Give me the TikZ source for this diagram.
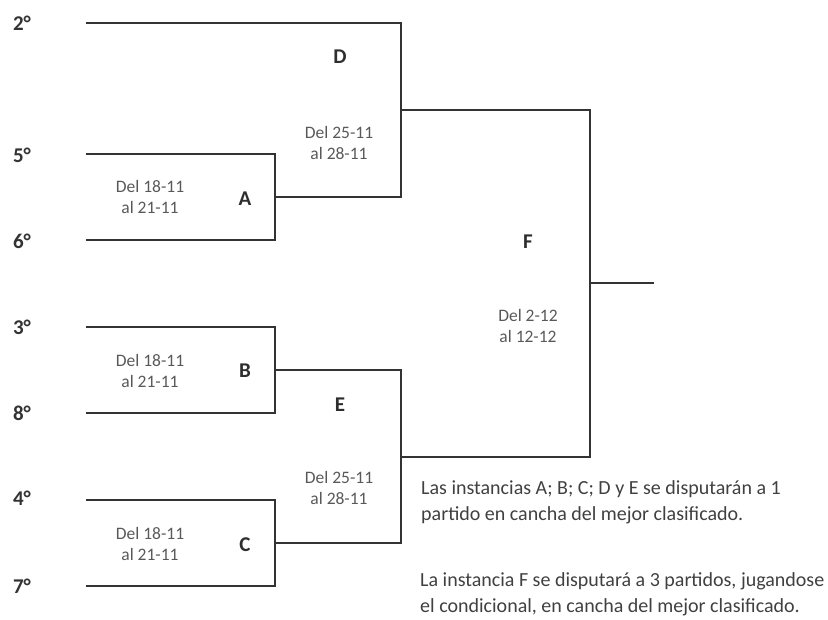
\documentclass[tikz,border=0pt]{standalone}
\usepackage{fontspec}
\setmainfont{Carlito}
\begin{document}
\begin{tikzpicture}[x=1pt,y=-1pt,
  bline/.style={draw=black!80,line width=2.8pt,line cap=rect},
  seed/.style={font=\fontsize{21}{24}\selectfont\bfseries,text=black!80,anchor=center},
  rlabel/.style={font=\fontsize{21}{24}\selectfont\bfseries,text=black!82},
  dates/.style={font=\fontsize{17.5}{21.5}\selectfont,text=black!65,align=center},
  note/.style={font=\fontsize{20}{26.5}\selectfont,text=black!75,align=left,anchor=north west,inner sep=0pt}]
\useasboundingbox (0,0) rectangle (828,619);
% seeds
\node[seed] (s2) at (22,23) {2°};
\node[seed] (s5) at (22,155) {5°};
\node[seed] (s6) at (22,241) {6°};
\node[seed] (s3) at (22,327) {3°};
\node[seed] (s8) at (22,413) {8°};
\node[seed] (s4) at (22,498) {4°};
\node[seed] (s7) at (22,586) {7°};
% coordinates
\coordinate (a2) at (87,23);
\coordinate (a5) at (87,154);
\coordinate (a6) at (87,240);
\coordinate (a3) at (87,327);
\coordinate (a8) at (87,413);
\coordinate (a4) at (87,500);
\coordinate (a7) at (87,586);
\coordinate (A1) at (275,154);
\coordinate (A2) at (275,240);
\coordinate (Ao) at (275,197);
\coordinate (B1) at (275,327);
\coordinate (B2) at (275,413);
\coordinate (Bo) at (275,370);
\coordinate (C1) at (275,500);
\coordinate (C2) at (275,586);
\coordinate (Co) at (275,543);
\coordinate (D1) at (401,23);
\coordinate (D2) at (401,197);
\coordinate (Do) at (401,110);
\coordinate (E1) at (401,370);
\coordinate (E2) at (401,543);
\coordinate (Eo) at (401,457);
\coordinate (F1) at (590,110);
\coordinate (F2) at (590,457);
\coordinate (Fo) at (590,283);
\coordinate (W) at (653,283);
% bracket lines
\draw[bline] (a5) -- (A1) -- (A2) -- (a6);
\draw[bline] (a3) -- (B1) -- (B2) -- (a8);
\draw[bline] (a4) -- (C1) -- (C2) -- (a7);
\draw[bline] (a2) -- (D1) -- (D2) -- (Ao);
\draw[bline] (Bo) -- (E1) -- (E2) -- (Co);
\draw[bline] (Do) -- (F1) -- (F2) -- (Eo);
\draw[bline] (Fo) -- (W);
% round labels
\node[rlabel] (lA) at (245,199) {A};
\node[rlabel] (lB) at (245,371) {B};
\node[rlabel] (lC) at (245,545) {C};
\node[rlabel] (lD) at (340,57) {D};
\node[rlabel] (lE) at (340,405) {E};
\node[rlabel] (lF) at (528,242) {F};
% dates
\node[dates] (dA) at (150,197) {Del 18-11\\al 21-11};
\node[dates] (dB) at (150,371) {Del 18-11\\al 21-11};
\node[dates] (dC) at (150,544) {Del 18-11\\al 21-11};
\node[dates] (dD) at (339,143) {Del 25-11\\al 28-11};
\node[dates] (dE) at (339,488) {Del 25-11\\al 28-11};
\node[dates] (dF) at (528,326) {Del 2-12\\al 12-12};
% notes
\node[note] (n1) at (421,480) {Las instancias A; B; C; D y E se disputarán a 1\\partido en cancha del mejor clasificado.};
\node[note] (n2) at (420,572) {La instancia F se disputará a 3 partidos, jugandose\\el condicional, en cancha del mejor clasificado.};
\end{tikzpicture}
\end{document}
